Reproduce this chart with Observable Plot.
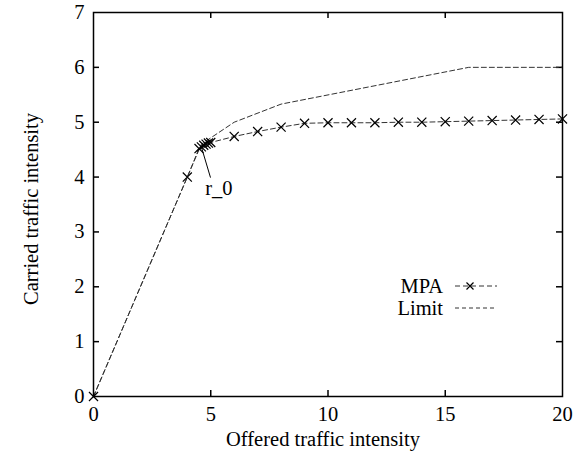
<!DOCTYPE html>
<html>
<head>
<meta charset="utf-8">
<script src="https://cdn.jsdelivr.net/npm/d3@7"></script>
<script src="https://cdn.jsdelivr.net/npm/@observablehq/plot@0.6"></script>
<style>
  body { margin: 0; background: #fff; }
  #chart { position: relative; width: 579px; height: 453px; }
  svg { font-family: "Liberation Serif", "DejaVu Serif", serif; }
</style>
</head>
<body>
<div id="chart"></div>
<script>
// MPA series
const mpaX = [0, 4, 4.5, 4.6, 4.7, 4.8, 4.9, 5, 6, 7, 8, 9, 10, 11, 12, 13, 14, 15, 16, 17, 18, 19, 20];
const mpaY = [0, 4, 4.52, 4.55, 4.58, 4.6, 4.62, 4.63, 4.74, 4.83, 4.91, 4.98, 4.99, 4.99, 4.99, 5.0, 5.0, 5.01, 5.02, 5.03, 5.04, 5.05, 5.06];
// Limit series
const limitX = [0, 4.6, 6, 8, 16, 20];
const limitY = [0, 4.6, 5.0, 5.33, 6.0, 6.0];
// Axis ticks
const xTicks = [0, 5, 10, 15, 20];
const yTicks = [0, 1, 2, 3, 4, 5, 6, 7];
// Annotation
const annotation = {label: "r_0", fromX: 4.6, fromY: 4.55, toX: 4.99, toY: 3.99, textX: 4.85, textY: 3.8};

const mpa = mpaX.map((x, i) => ({x, y: mpaY[i]}));
const limit = limitX.map((x, i) => ({x, y: limitY[i]}));

const W = 579, H = 453;
const mL = 93, mR = 17, mT = 12, mB = 57;
const innerH = H - mT - mB, innerW = W - mL - mR;
const tickLen = 6;
const fs = 20.5;

const plot = Plot.plot({
  width: W,
  height: H,
  marginLeft: mL,
  marginRight: mR,
  marginTop: mT,
  marginBottom: mB,
  style: {fontFamily: "Liberation Serif, serif", fontSize: fs + "px", background: "#fff", color: "#000"},
  x: {domain: [0, 20], label: null},
  y: {domain: [0, 7], label: null},
  marks: [
    Plot.axisX(xTicks, {tickSize: 0, tickPadding: 10, fontSize: fs, tickFormat: d => d, label: null}),
    Plot.axisY(yTicks, {tickSize: 0, tickPadding: 9, fontSize: fs, tickFormat: d => d, label: null}),
    Plot.ruleX(xTicks.slice(1, -1), {x: d => d, insetTop: innerH - tickLen, stroke: "#000", strokeWidth: 1.5}),
    Plot.ruleX(xTicks.slice(1, -1), {x: d => d, insetBottom: innerH - tickLen, stroke: "#000", strokeWidth: 1.5}),
    Plot.ruleY(yTicks.slice(1, -1), {y: d => d, insetRight: innerW - tickLen, stroke: "#000", strokeWidth: 1.5}),
    Plot.ruleY(yTicks.slice(1, -1), {y: d => d, insetLeft: innerW - tickLen, stroke: "#000", strokeWidth: 1.5}),
    Plot.line(limit, {x: "x", y: "y", stroke: "#333", strokeWidth: 1, strokeDasharray: "5,3"}),
    Plot.line(mpa, {x: "x", y: "y", stroke: "#333", strokeWidth: 1, strokeDasharray: "5,3"}),
    Plot.dot(mpa, {x: "x", y: "y", symbol: "times", r: 4.2, stroke: "#000", strokeWidth: 1.2}),
    Plot.link([annotation], {x1: "fromX", y1: "fromY", x2: "toX", y2: "toY", stroke: "#000", strokeWidth: 1}),
    Plot.text([annotation], {x: "textX", y: "textY", text: "label", textAnchor: "start", fontSize: fs, fill: "#000", dx: -2}),
    Plot.frame({stroke: "#000", strokeWidth: 1.5})
  ]
});

const svg = d3.select(plot);
svg.append("text")
  .attr("x", 323).attr("y", 446)
  .attr("text-anchor", "middle")
  .attr("font-size", fs).attr("fill", "#000")
  .text("Offered traffic intensity");
svg.append("text")
  .attr("transform", `translate(38, 209) rotate(-90)`)
  .attr("text-anchor", "middle")
  .attr("font-size", fs).attr("fill", "#000")
  .text("Carried traffic intensity");

const legend = [
  {label: "MPA", y: 286, dash: "5,3", marker: true},
  {label: "Limit", y: 308, dash: "4,3", marker: false}
];
legend.forEach(d => {
  svg.append("text")
    .attr("x", 443).attr("y", d.y).attr("dy", "0.35em")
    .attr("text-anchor", "end")
    .attr("font-size", fs).attr("fill", "#000")
    .text(d.label);
  svg.append("line")
    .attr("x1", 455).attr("x2", 497).attr("y1", d.y).attr("y2", d.y)
    .attr("stroke", "#333").attr("stroke-dasharray", d.dash);
  if (d.marker) {
    const s = 3.5, cx = 470;
    svg.append("path")
      .attr("d", `M${cx - s},${d.y - s}L${cx + s},${d.y + s}M${cx - s},${d.y + s}L${cx + s},${d.y - s}`)
      .attr("stroke", "#000").attr("stroke-width", 1.2);
  }
});

document.getElementById("chart").appendChild(plot);
</script>
</body>
</html>
